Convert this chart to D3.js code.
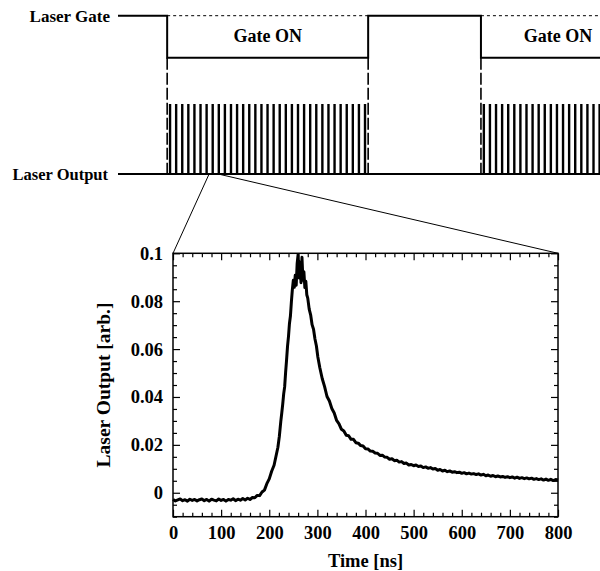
<!DOCTYPE html>
<html lang="en">
<head>
<meta charset="UTF-8">
<title>Laser gate and laser output</title>
<script src="https://d3js.org/d3.v7.min.js"></script>
<style>
    body { margin: 0; background: #fff; }
    svg text {
        font-family: "Liberation Serif", "Times New Roman", serif;
        font-weight: bold;
        fill: #000;
    }
    .tick line { stroke: #000; stroke-width: 1.2px; }
    .domain { display: none; }
</style>
</head>
<body>
<div id="chart"></div>
<script>
var width = 600, height = 571;

// timing strip (arbitrary units across the page)
var gateOn = [[10.2, 51.9], [75.3, 107.3]];
var gateLabels = ["Gate ON", "Gate ON"];
var pulsePeriod = 1.264;
var zoomWindow = [18.9, 20.8];

// measured pulse
var timeNs = [0, 5, 10, 15, 20, 25, 30, 35, 40, 45, 50, 55, 60, 65, 70, 75, 80, 85, 90, 95,
    100, 105, 110, 115, 120, 125, 130, 135, 140, 145, 150, 155, 160, 165, 170, 175, 180, 185, 190, 195,
    200, 205, 210, 215, 218, 221, 224, 226, 228, 230, 232, 234, 236, 238, 240, 242, 244, 246, 248, 250,
    252, 254, 256, 258, 260, 262, 264, 266, 268, 270, 272, 274, 276, 278, 280, 283, 286, 289, 292, 295,
    298, 301, 305, 310, 315, 320, 325, 330, 335, 340, 345, 350, 355, 360, 365, 370, 375, 380, 385, 390,
    395, 400, 405, 410, 415, 420, 425, 430, 435, 440, 445, 450, 455, 460, 465, 470, 475, 480, 485, 490,
    495, 500, 505, 510, 515, 520, 525, 530, 535, 540, 545, 550, 555, 560, 565, 570, 575, 580, 585, 590,
    595, 600, 605, 610, 615, 620, 625, 630, 635, 640, 645, 650, 655, 660, 665, 670, 675, 680, 685, 690,
    695, 700, 705, 710, 715, 720, 725, 730, 735, 740, 745, 750, 755, 760, 765, 770, 775, 780, 785, 790,
    795, 800];
var output = [-0.0028, -0.0034, -0.0030, -0.0026, -0.0033, -0.0029, -0.0035, -0.0027, -0.0032, -0.0028,
    -0.0034, -0.0029, -0.0026, -0.0033, -0.0028, -0.0035, -0.0027, -0.0031, -0.0034, -0.0026,
    -0.0032, -0.0028, -0.0035, -0.0028, -0.0031, -0.0025, -0.0033, -0.0027, -0.0031, -0.0024,
    -0.0030, -0.0023, -0.0028, -0.0020, -0.0021, -0.0011, -0.0012, 0.0003, 0.0011, 0.0038,
    0.0058, 0.0090, 0.0115, 0.0162, 0.0190, 0.0236, 0.0298, 0.0333, 0.0370, 0.0413,
    0.0442, 0.0503, 0.0555, 0.0612, 0.0653, 0.0707, 0.0738, 0.0797, 0.0848, 0.0887,
    0.0858, 0.0908, 0.0867, 0.0958, 0.0995, 0.0897, 0.0963, 0.0877, 0.0983, 0.0887,
    0.0923, 0.0857, 0.0883, 0.0827, 0.0813, 0.0767, 0.0743, 0.0702, 0.0683, 0.0642,
    0.0613, 0.0567, 0.0523, 0.0477, 0.0443, 0.0402, 0.0383, 0.0352, 0.0333, 0.0302,
    0.0288, 0.0265, 0.0258, 0.0240, 0.0238, 0.0223, 0.0223, 0.0209, 0.0207, 0.0197,
    0.0195, 0.0184, 0.0183, 0.0174, 0.0173, 0.0166, 0.0165, 0.0156, 0.0157, 0.0149,
    0.0148, 0.0140, 0.0142, 0.0134, 0.0136, 0.0128, 0.0130, 0.0122, 0.0124, 0.0116,
    0.0118, 0.0113, 0.0116, 0.0110, 0.0112, 0.0105, 0.0108, 0.0102, 0.0105, 0.0099,
    0.0101, 0.0094, 0.0097, 0.0091, 0.0094, 0.0088, 0.0091, 0.0086, 0.0088, 0.0084,
    0.0086, 0.0081, 0.0084, 0.0079, 0.0082, 0.0078, 0.0080, 0.0076, 0.0079, 0.0074,
    0.0077, 0.0071, 0.0074, 0.0069, 0.0072, 0.0067, 0.0070, 0.0066, 0.0068, 0.0064,
    0.0067, 0.0063, 0.0066, 0.0061, 0.0065, 0.0060, 0.0063, 0.0059, 0.0062, 0.0058,
    0.0061, 0.0056, 0.0059, 0.0055, 0.0058, 0.0053, 0.0057, 0.0052, 0.0056, 0.0051,
    0.0055, 0.0053];

var xTicks = [0, 100, 200, 300, 400, 500, 600, 700, 800];
var yTicks = [0, 0.02, 0.04, 0.06, 0.08, 0.1];
var yTickLabels = ["0", "0.02", "0.04", "0.06", "0.08", "0.1"];

var svg = d3.select("#chart").append("svg")
    .attr("width", width)
    .attr("height", height);

// ---- timing diagram ----
var sx = d3.scaleLinear().domain([0, 100]).range([118, 600]);
var gateHigh = 15.7, gateLow = 57.7, pulseTop = 104, baseY = 174;

svg.append("text").attr("x", 110).attr("y", 21.5).attr("text-anchor", "end")
    .style("font-size", "17px").text("Laser Gate");
svg.append("text").attr("x", 108).attr("y", 179.5).attr("text-anchor", "end")
    .style("font-size", "16.5px").text("Laser Output");

// gate waveform
var gatePts = [[sx(0), gateHigh]];
gateOn.forEach(function(g) {
    gatePts.push([sx(g[0]), gateHigh], [sx(g[0]), gateLow], [sx(g[1]), gateLow], [sx(g[1]), gateHigh]);
});
svg.append("path")
    .attr("d", d3.line()(gatePts))
    .attr("fill", "none").attr("stroke", "#000").attr("stroke-width", 2);

// dotted high level over the ON windows
gateOn.forEach(function(g) {
    svg.append("line")
        .attr("x1", sx(g[0])).attr("x2", sx(g[1]))
        .attr("y1", gateHigh).attr("y2", gateHigh)
        .attr("stroke", "#000").attr("stroke-width", 1).attr("stroke-dasharray", "3,3");
});

// dashed edge markers
var edges = [];
gateOn.forEach(function(g) { edges.push(g[0], g[1]); });
svg.selectAll(".edge").data(edges.filter(function(e) { return sx(e) < width; }))
    .enter().append("line")
    .attr("class", "edge")
    .attr("x1", function(d) { return sx(d); }).attr("x2", function(d) { return sx(d); })
    .attr("y1", gateLow).attr("y2", baseY)
    .attr("stroke", "#000").attr("stroke-width", 1.6).attr("stroke-dasharray", "12,3");

// pulses during each gate
var pulses = [];
gateOn.forEach(function(g) {
    d3.range(g[0] + 0.6, g[1] - 0.5, pulsePeriod).forEach(function(p) { pulses.push(p); });
});
svg.selectAll(".pulse").data(pulses.filter(function(p) { return sx(p) < width; }))
    .enter().append("line")
    .attr("class", "pulse")
    .attr("x1", function(d) { return sx(d); }).attr("x2", function(d) { return sx(d); })
    .attr("y1", pulseTop).attr("y2", baseY)
    .attr("stroke", "#000").attr("stroke-width", 2.4);

svg.append("line")
    .attr("x1", sx(0)).attr("x2", width)
    .attr("y1", baseY).attr("y2", baseY)
    .attr("stroke", "#000").attr("stroke-width", 2);

svg.selectAll(".gatelabel").data(gateOn)
    .enter().append("text")
    .attr("class", "gatelabel")
    .attr("x", function(d) { return sx((d[0] + d[1]) / 2); })
    .attr("y", 42)
    .attr("text-anchor", "middle")
    .style("font-size", "18px")
    .text(function(d, i) { return gateLabels[i]; });

// ---- pulse plot ----
var x = d3.scaleLinear().domain([0, 800]).range([173, 558]);
var y = d3.scaleLinear().domain([-0.01, 0.1]).range([516.7, 253.3]);

var plotBottom = y.range()[0], plotTop = y.range()[1],
    plotLeft = x.range()[0], plotRight = x.range()[1];

// zoom guide lines
svg.append("line")
    .attr("x1", sx(zoomWindow[0])).attr("y1", baseY)
    .attr("x2", plotLeft).attr("y2", plotTop)
    .attr("stroke", "#000").attr("stroke-width", 1);
svg.append("line")
    .attr("x1", sx(zoomWindow[1])).attr("y1", baseY)
    .attr("x2", plotRight).attr("y2", plotTop)
    .attr("stroke", "#000").attr("stroke-width", 1);

var xMinor = d3.range(0, 801, 20).filter(function(v) { return v % 100 !== 0; });
var yMinor = d3.range(-0.01, 0.1001, 0.005).filter(function(v) {
    return Math.abs(Math.round(v / 0.02) * 0.02 - v) > 1e-6;
});

function fs(g) { g.selectAll("text").style("font-size", "18.5px"); }

svg.append("g").attr("transform", "translate(0," + plotBottom + ")")
    .call(d3.axisBottom(x).tickValues(xTicks).tickSize(-7).tickPadding(9)).call(fs);
svg.append("g").attr("transform", "translate(0," + plotBottom + ")")
    .call(d3.axisBottom(x).tickValues(xMinor).tickSize(-4).tickFormat(""));
svg.append("g").attr("transform", "translate(0," + plotTop + ")")
    .call(d3.axisTop(x).tickValues(xTicks).tickSize(-7).tickFormat(""));
svg.append("g").attr("transform", "translate(0," + plotTop + ")")
    .call(d3.axisTop(x).tickValues(xMinor).tickSize(-4).tickFormat(""));

svg.append("g").attr("transform", "translate(" + plotLeft + ",0)")
    .call(d3.axisLeft(y).tickValues(yTicks).tickSize(-7).tickPadding(10)
        .tickFormat(function(d, i) { return yTickLabels[i]; })).call(fs);
svg.append("g").attr("transform", "translate(" + plotLeft + ",0)")
    .call(d3.axisLeft(y).tickValues(yMinor).tickSize(-4).tickFormat(""));
svg.append("g").attr("transform", "translate(" + plotRight + ",0)")
    .call(d3.axisRight(y).tickValues(yTicks).tickSize(-7).tickFormat(""));
svg.append("g").attr("transform", "translate(" + plotRight + ",0)")
    .call(d3.axisRight(y).tickValues(yMinor).tickSize(-4).tickFormat(""));

svg.selectAll(".tick text").attr("fill", "#000");

svg.append("rect")
    .attr("x", plotLeft).attr("y", plotTop)
    .attr("width", plotRight - plotLeft).attr("height", plotBottom - plotTop)
    .attr("fill", "none").attr("stroke", "#000").attr("stroke-width", 1.5);

var line = d3.line()
    .x(function(d, i) { return x(timeNs[i]); })
    .y(function(d) { return y(d); });

svg.append("path")
    .datum(output)
    .attr("d", line)
    .attr("fill", "none")
    .attr("stroke", "#000")
    .attr("stroke-width", 3)
    .attr("stroke-linejoin", "round");

svg.append("text")
    .attr("x", (plotLeft + plotRight) / 2).attr("y", 567)
    .attr("text-anchor", "middle")
    .style("font-size", "18.5px")
    .text("Time [ns]");

svg.append("text")
    .attr("transform", "translate(110," + (plotTop + plotBottom) / 2 + ") rotate(-90)")
    .attr("text-anchor", "middle")
    .style("font-size", "19.5px")
    .text("Laser Output [arb.]");
</script>
</body>
</html>
